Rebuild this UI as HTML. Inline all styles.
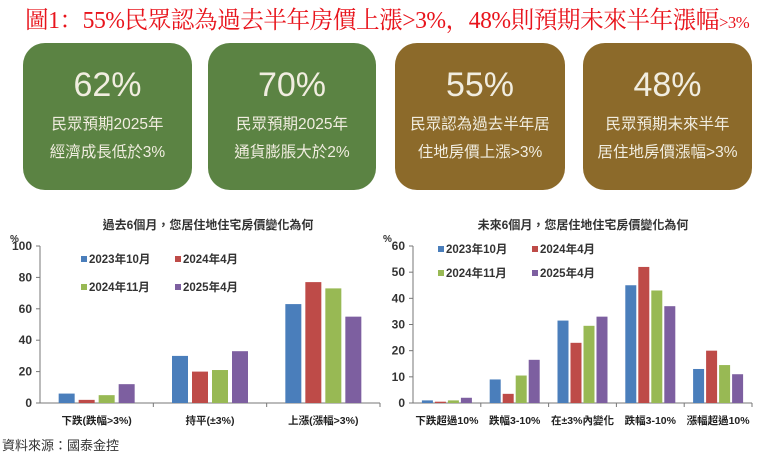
<!DOCTYPE html>
<html><head><meta charset="utf-8">
<style>
html,body{margin:0;padding:0;background:#fff;}
body{width:757px;height:454px;position:relative;overflow:hidden;font-family:"Liberation Sans","Noto Sans CJK TC",sans-serif;}
.title{position:absolute;left:25px;top:0px;white-space:nowrap;color:#e8141c;font-family:"Liberation Serif","Noto Serif CJK SC",serif;font-size:24px;letter-spacing:-0.5px;transform:scaleX(0.985);transform-origin:left top;}
.title small{font-size:17px;}
.box{position:absolute;top:43px;height:147px;border-radius:22px;color:#f1ede0;text-align:center;}
.box .big{font-size:34px;margin-top:22px;line-height:40px;}
.box .t{font-size:15.5px;line-height:28px;margin-top:6px;}
.g{background:#5b8343;}
.b{background:#8c6a2a;}
.src{position:absolute;left:2px;top:435px;font-size:13px;color:#333;}
svg{position:absolute;left:0;top:0;}
</style></head><body>
<div class="title">圖1：55%民眾認為過去半年房價上漲&gt;3%，48%則預期未來半年漲幅<small>&gt;3%</small></div>
<div class="box g" style="left:23px;width:169px"><div class="big">62%</div><div class="t">民眾預期2025年<br>經濟成長低於3%</div></div>
<div class="box g" style="left:208px;width:168px"><div class="big">70%</div><div class="t">民眾預期2025年<br>通貨膨脹大於2%</div></div>
<div class="box b" style="left:395px;width:170px"><div class="big">55%</div><div class="t">民眾認為過去半年居<br>住地房價上漲&gt;3%</div></div>
<div class="box b" style="left:583px;width:169px"><div class="big">48%</div><div class="t">民眾預期未來半年<br>居住地房價漲幅&gt;3%</div></div>
<div class="src">資料來源：國泰金控</div>
<svg id="chart" width="757" height="454"></svg>
<script>
const seriesNames = ["2023年10月","2024年4月","2024年11月","2025年4月"];
const colors = ["#4a7ebb","#be4b48","#98b954","#7d5fa0"];
const leftCats = ["下跌(跌幅>3%)","持平(±3%)","上漲(漲幅>3%)"];
const leftS1 = [6,30,63];
const leftS2 = [2,20,77];
const leftS3 = [5,21,73];
const leftS4 = [12,33,55];
const leftTicks = [0,20,40,60,80,100];
const rightCats = ["下跌超過10%","跌幅3-10%","在±3%內變化","跌幅3-10%","漲幅超過10%"];
const rightS1 = [1,9,31.5,45,13];
const rightS2 = [0.5,3.5,23,52,20];
const rightS3 = [1,10.5,29.5,43,14.5];
const rightS4 = [2,16.5,33,37,11];
const rightTicks = [0,10,20,30,40,50,60];

const NS="http://www.w3.org/2000/svg";
const svg=document.getElementById('chart');
function mk(tag,attrs,name,text){
  const e=document.createElementNS(NS,tag);
  for(const k in attrs)e.setAttribute(k,attrs[k]);
  
  
  if(text!==undefined)e.textContent=text;
  svg.appendChild(e);return e;
}
function chart(cfg){
  const {x0,x1,yTop,yBot,max,ticks,cats,series,title,titleX,legX,legX2,barW,gap,prefix}=cfg;
  const y=v=>yBot-(v/max)*(yBot-yTop);
  const cw=(x1-x0)/cats.length;
  mk('text',{x:titleX,y:229,'font-size':12,'font-weight':'bold',fill:'#333','text-anchor':'middle'},prefix+'-title',title);
  mk('text',{x:x0-30,y:242,'font-size':10,'font-weight':'bold',fill:'#333'},prefix+'-y-unit','%');
  mk('line',{x1:x0,y1:yTop,x2:x0,y2:yBot,stroke:'#777'},prefix+'-y-axis');
  mk('line',{x1:x0,y1:yBot,x2:x1,y2:yBot,stroke:'#777'},prefix+'-x-axis');
  ticks.forEach(t=>{
    mk('line',{x1:x0-4,y1:y(t),x2:x0,y2:y(t),stroke:'#777'},prefix+'-y-tick');
    mk('text',{x:x0-8,y:y(t)+4,'font-size':12,'font-weight':'bold',fill:'#333','text-anchor':'end'},prefix+'-y-tick-label',t);
  });
  cats.forEach((c,i)=>{
    const cx=x0+cw*(i+0.5);
    mk('line',{x1:x0+cw*(i+1),y1:yBot,x2:x0+cw*(i+1),y2:yBot+4,stroke:'#777'},prefix+'-x-tick');
    mk('text',{x:cx,y:yBot+21,'font-size':10.5,'font-weight':'bold',fill:'#222','text-anchor':'middle'},prefix+'-x-label',c);
    series.forEach((s,j)=>{
      const bx=cx+(j-1.5)*(barW+gap)-barW/2;
      mk('rect',{x:bx,y:y(s[i]),width:barW,height:yBot-y(s[i]),fill:colors[j]},prefix+'-bar');
    });
  });
  seriesNames.forEach((n,j)=>{
    const lx=(j%2===0)?legX:legX2, ly=j<2?cfg.legY1:cfg.legY2;
    mk('rect',{x:lx,y:ly-7,width:6,height:6,fill:colors[j]},prefix+'-legend-swatch');
    mk('text',{x:lx+8,y:ly,'font-size':11.5,'font-weight':'bold',fill:'#333'},prefix+'-legend-entry',n);
  });
}
chart({x0:40,x1:380,yTop:246,yBot:403,max:100,ticks:leftTicks,cats:leftCats,series:[leftS1,leftS2,leftS3,leftS4],
  title:"過去6個月，您居住地住宅房價變化為何",titleX:208,legX:81,legX2:175,legY1:263,legY2:291,barW:16,gap:4,prefix:'past'});
chart({x0:413,x1:752,yTop:246,yBot:403,max:60,ticks:rightTicks,cats:rightCats,series:[rightS1,rightS2,rightS3,rightS4],
  title:"未來6個月，您居住地住宅房價變化為何",titleX:583,legX:438,legX2:532,legY1:253,legY2:277,barW:11,gap:2,prefix:'future'});
</script>
</body></html>
